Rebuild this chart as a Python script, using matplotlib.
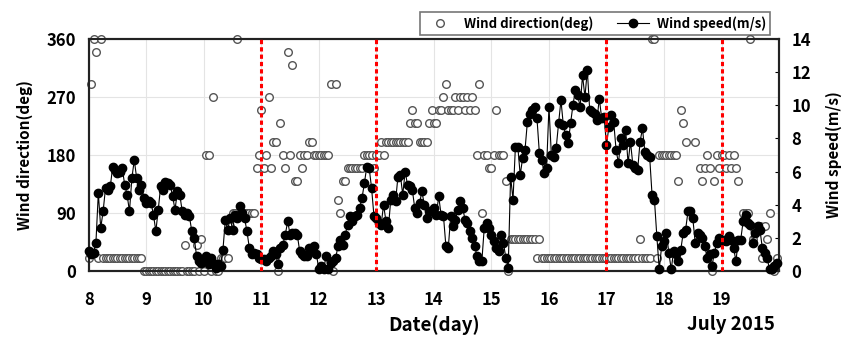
import numpy as np
import matplotlib
matplotlib.use("Agg")
import matplotlib.pyplot as plt
from matplotlib.lines import Line2D

plt.rcParams["font.family"] = ["Noto Sans CJK KR", "DejaVu Sans"]
plt.rcParams["font.weight"] = "bold"

nan = np.nan

# Velocidad del viento (m/s), un valor por hora, una lista por dia (julio 2015)
speed_d08 = [1.2, 1.0, 1.1, 1.7, 4.7, 2.6, 3.6, 5.0, 4.9, 5.1, 6.3, 6.1, 5.9, 6.0, 6.2, 5.2, 4.6, 3.6, 5.6, 6.7, 5.6, 4.9, 5.2, 4.4]
speed_d09 = [4.1, 4.2, 4.1, 3.4, 2.4, 3.7, 5.1, 4.9, 5.4, 5.3, 5.2, 4.5, 3.7, 4.8, 4.6, 3.6, 3.4, 3.5, 3.3, 2.4, 2.0, 0.9, 0.6, 0.5]
speed_d10 = [0.6, 0.9, 0.4, 0.8, 0.5, 0.2, 0.4, 0.3, 1.3, 3.1, 2.5, 3.2, 2.5, 3.4, 3.2, 3.9, 3.5, 3.2, 2.4, 1.4, 1.0, 1.1, 1.0, 0.8]
speed_d11 = [0.7, 0.7, 0.6, 0.8, 0.9, 1.2, 1.0, 0.4, 1.4, 1.6, 2.2, 3.0, 2.2, 2.3, 2.3, 2.2, 1.2, 1.0, 0.9, 0.9, 1.4, 1.2, 1.5, 1.0]
speed_d12 = [0.1, 0.3, 0.1, 0.9, 0.1, 0.5, 0.6, 0.8, 1.5, 1.9, 1.6, 2.2, 2.8, 3.3, 3.0, 3.3, 3.4, 3.8, 4.4, 5.3, 6.3, 6.2, 5.0, 3.3]
speed_d13 = [3.2, 2.9, 2.8, 4.0, 3.0, 2.6, 4.3, 4.6, 4.2, 5.7, 5.8, 4.6, 6.0, 5.2, 5.1, 4.9, 3.8, 3.5, 4.1, 4.8, 4.0, 3.2, 3.6, 3.6]
speed_d14 = [3.8, 3.4, 4.5, 3.4, 3.3, 1.5, 1.4, 3.3, 2.7, 3.1, 3.7, 4.2, 3.8, 3.1, 2.9, 2.4, 2.0, 1.5, 0.9, 0.6, 0.6, 2.6, 2.9, 2.6]
speed_d15 = [2.2, 1.8, 1.4, 1.2, 2.2, 1.7, 0.8, 0.2, 5.7, 4.3, 7.5, 7.5, 5.8, 6.8, 7.3, 9.0, 9.5, 9.7, 9.9, 9.2, 7.1, 6.7, 5.9, 6.2]
speed_d16 = [9.9, 7.0, 6.9, 7.4, 8.9, 10.3, 8.8, 8.2, 7.7, 8.9, 10.0, 10.9, 10.6, 9.9, 11.8, 10.5, 12.1, 9.7, 9.6, 9.5, 9.1, 10.4, 9.2, 9.3]
speed_d17 = [7.6, 8.7, 9.4, 9.0, 7.3, 6.5, 8.0, 7.6, 8.5, 6.5, 7.8, 6.4, 6.2, 6.1, 7.8, 8.6, 7.2, 7.0, 6.9, 4.6, 4.3, 2.1, 0.1, 1.5]
speed_d18 = [1.8, 2.3, 1.1, 0.1, 1.2, 1.0, 0.6, 1.3, 2.3, 2.5, 3.6, 3.6, 3.2, 1.7, 2.3, 2.2, 2.0, 1.5, 0.8, 1.0, 0.3, 1.1, 1.7, 2.0]
speed_d19 = [1.8, 1.9, 1.8, 2.1, 1.9, 1.4, 0.6, 1.9, 1.9, 3.0, 3.4, 2.9, 2.8, 1.7, 2.3, 2.7, 2.5, 1.4, 1.1, 0.8, 0.1, 0.1, 0.3, 0.5]

# Direccion del viento (deg), un valor por hora (nan = no se ve en la figura)
dir_d08 = [20, 290, 360, 340, 20, 360, 20, 20, 20, 20, 20, 20, 20, 20, 20, 20, 20, 20, 20, 20, 20, 20, 20, 0]
dir_d09 = [0, 0, 0, 0, 0, 0, 0, 0, 0, 0, 0, 0, 0, 0, 0, 0, 40, 0, 0, 0, 0, 40, 0, 50]
dir_d10 = [0, 180, 180, 0, 270, 0, 0, 20, 20, 20, 20, 70, 90, 90, 360, 90, 90, 90, 90, 90, 90, 90, 160, 180]
dir_d11 = [250, 160, 180, 270, 160, 200, 200, 0, 230, 180, 160, 340, 180, 320, 140, 140, 180, 160, 180, 180, 200, 200, 180, 180]
dir_d12 = [180, 180, 180, 180, 180, 290, 0, 290, 110, 90, 140, 140, 160, 160, 160, 160, 160, 160, 160, 180, 180, 180, 180, 160]
dir_d13 = [180, 180, 200, 180, 200, 200, 200, 200, 200, 200, 200, 200, 200, 200, 230, 250, 230, 230, 200, 200, 200, 200, 230, 250]
dir_d14 = [230, 230, 250, 250, 270, 290, 250, 250, 250, 270, 250, 270, 270, 250, 270, 250, 270, 250, 180, 290, 90, 180, 180, 160]
dir_d15 = [160, 180, 250, 180, 180, 180, 140, 0, 50, 50, 50, 50, 50, 50, 50, 50, 50, 50, 50, 20, 50, 20, 20, 20]
dir_d16 = [20, 20, 20, 20, 20, 20, 20, 20, 20, 20, 20, 20, 20, 20, 20, 20, 20, 20, 20, 20, 20, 20, 20, 20]
dir_d17 = [20, 20, 20, 20, 20, 20, 20, 20, 20, 20, 20, 20, 20, 20, 50, 20, 20, 20, 20, 360, 360, 20, 180, 180]
dir_d18 = [180, 180, 180, 180, 180, 180, 140, 250, 230, 200, nan, nan, nan, 200, nan, 160, 140, 160, 180, 160, 0, 140, 180, 160]
dir_d19 = [180, 180, 160, 180, 160, 180, 160, 140, nan, 90, 90, 90, 360, 50, nan, nan, 70, 20, 70, 50, 90, nan, 0, 20]

speed = np.array(speed_d08 + speed_d09 + speed_d10 + speed_d11 + speed_d12 + speed_d13
                 + speed_d14 + speed_d15 + speed_d16 + speed_d17 + speed_d18 + speed_d19)
direccion = np.array(dir_d08 + dir_d09 + dir_d10 + dir_d11 + dir_d12 + dir_d13
                     + dir_d14 + dir_d15 + dir_d16 + dir_d17 + dir_d18 + dir_d19, dtype=float)
# eje de tiempo en dias (datos horarios desde el dia 8)
t = 8 + np.arange(len(speed)) / 24.0

dias_evento = [11, 13, 17, 19]
x_ticks = list(range(8, 21))
x_labels = [str(d) for d in range(8, 20)] + [""]
dir_ticks = [0, 90, 180, 270, 360]
speed_ticks = [0, 2, 4, 6, 8, 10, 12, 14]

fig = plt.figure(figsize=(8.45, 3.38), dpi=100)
ax1 = fig.add_axes([0.105, 0.198, 0.817, 0.687])

# Direccion: circulos vacios
ax1.plot(t, direccion, "o", ls="none", mfc="white", mec="#555555", ms=5.5, mew=1.0, clip_on=False, zorder=3)
ax1.set_xlim(8, 20)
ax1.set_ylim(0, 360)
ax1.set_xticks(x_ticks)
ax1.set_xticklabels(x_labels)
ax1.set_yticks(dir_ticks)
ax1.grid(True, color="#e4e4e4", lw=0.8)
ax1.set_axisbelow(True)
ax1.tick_params(axis="both", length=0, labelsize=12)
ax1.tick_params(axis="x", pad=14)
ax1.tick_params(axis="y", pad=9)

# Velocidad: puntos negros con linea
ax2 = ax1.twinx()
ax2.plot(t, speed, "-o", color="black", lw=0.8, ms=6, clip_on=False, zorder=4)
ax2.set_ylim(0, 14)
ax2.set_yticks(speed_ticks)
ax2.tick_params(axis="y", length=3, direction="in", labelsize=12, pad=9)

# Lineas rojas punteadas
for d in dias_evento:
    ax2.axvline(d, color="red", lw=2.2, ls=(0, (1.4, 1.0)), zorder=6)

for a in (ax1, ax2):
    for s in a.spines.values():
        s.set_linewidth(1.5)
        s.set_color("#222222")

fig.text(25 / 845, 1 - 155 / 338, "Wind direction(deg)", rotation=90, ha="center", va="center", fontsize=11)
fig.text(834 / 845, 1 - 155 / 338, "Wind speed(m/s)", rotation=90, ha="center", va="center", fontsize=11)
fig.text(434 / 845, 1 - 325 / 338, "Date(day)", ha="center", va="center", fontsize=13.5)
fig.text(731 / 845, 1 - 325 / 338, "July 2015", ha="center", va="center", fontsize=13.5)

handles = [
    Line2D([], [], marker="o", ls="none", mfc="white", mec="#555555", ms=5.5, mew=1.0),
    Line2D([], [], marker="o", ls="-", color="black", lw=0.8, ms=6),
]
leg = fig.legend(handles, ["Wind direction(deg)", "Wind speed(m/s)"], loc="upper right",
                 bbox_to_anchor=(777 / 845, 1 - 5 / 338), ncol=2, frameon=True, fancybox=False,
                 edgecolor="#555555", fontsize=9.5, handlelength=2.4, columnspacing=1.8,
                 borderpad=0.35, handletextpad=0.6)
leg.get_frame().set_linewidth(1.2)

fig.savefig("out.png", dpi=100)
